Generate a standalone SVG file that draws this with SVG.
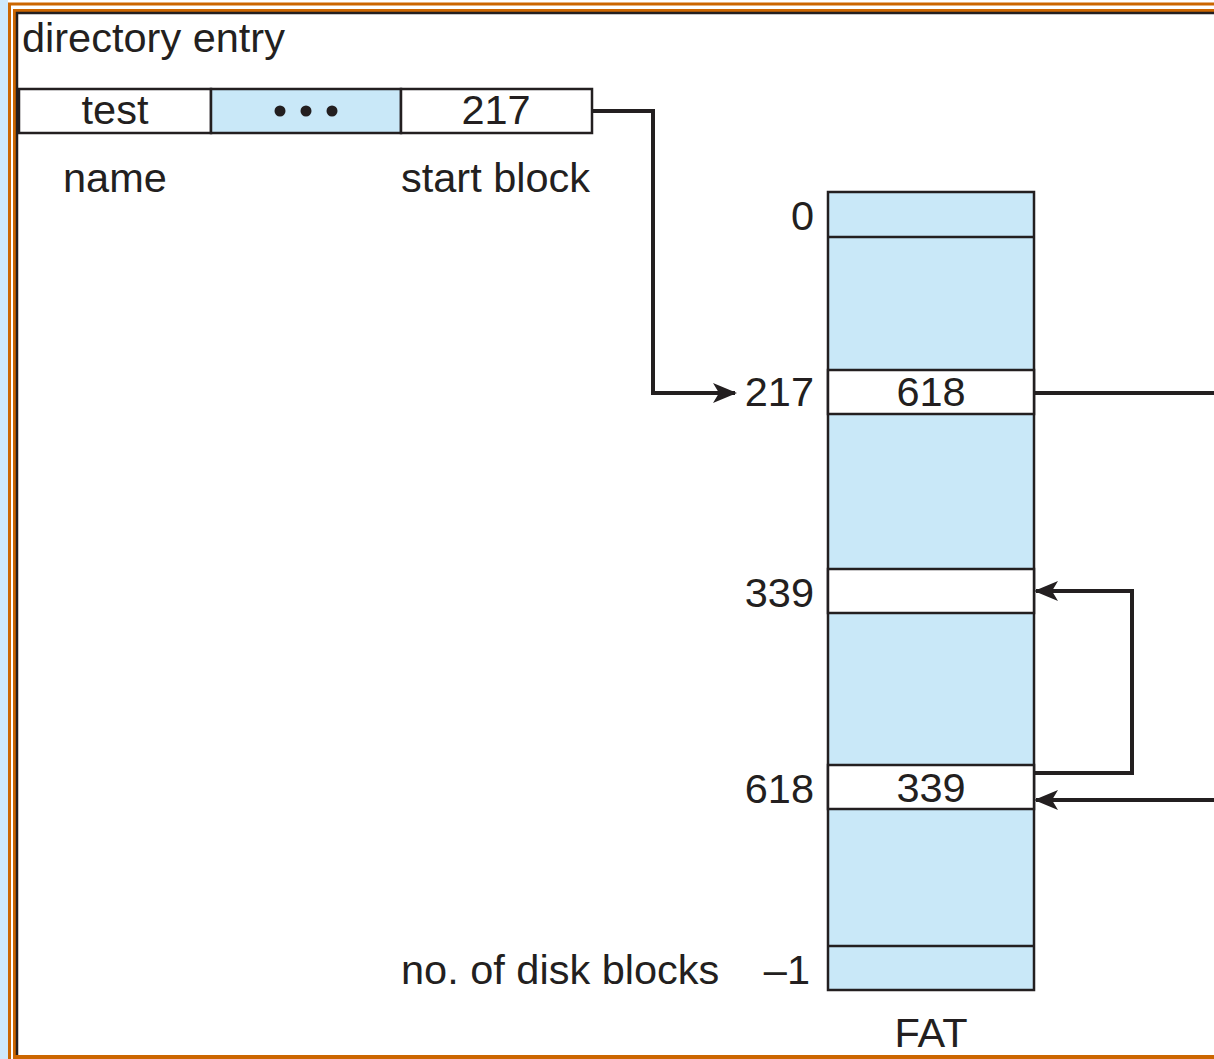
<svg xmlns="http://www.w3.org/2000/svg" width="1214" height="1059" viewBox="0 0 1214 1059">
<defs>
<style>
text{font-family:"Liberation Sans",Arial,sans-serif;font-size:41.5px;fill:#231f20}
.c{text-anchor:middle}
.r{text-anchor:end}
.box{stroke:#231f20;stroke-width:2.5}
.blue{fill:#c9e8f8}
.white{fill:#ffffff}
.line{fill:none;stroke:#231f20;stroke-width:4}
.thin{stroke:#231f20;stroke-width:2.5}
</style>
<marker id="ah" viewBox="0 0 24 20" refX="22" refY="10" markerWidth="24" markerHeight="20" markerUnits="userSpaceOnUse" orient="auto">
<path d="M0,0 L24,10 L0,20 L6,10 Z" fill="#231f20"/>
</marker>
</defs>
<rect width="1214" height="1059" fill="#ffffff"/>
<g id="frame">
<rect x="0" y="0" width="8" height="1059" fill="#cfe9fb"/>
<path d="M9.5,1059 V4 H1214" fill="none" stroke="#cc6600" stroke-width="3"/>
<path d="M14.5,1059 V10.5 H1214" fill="none" stroke="#cc6600" stroke-width="3"/>
<path d="M17,1055 V13 H1214" fill="none" stroke="#231f20" stroke-width="2.5"/>
<rect x="13" y="1055" width="1201" height="4" fill="#cc6600"/>
</g>
<text x="22" y="52">directory entry</text>
<g id="dir-entry">
<rect x="19" y="89" width="192" height="44" class="box white"/>
<rect x="211" y="89" width="190" height="44" class="box blue"/>
<rect x="401" y="89" width="191" height="44" class="box white"/>
<text x="115" y="124" class="c">test</text>
<circle cx="280" cy="111" r="5.5" fill="#231f20"/>
<circle cx="306" cy="111" r="5.5" fill="#231f20"/>
<circle cx="332" cy="111" r="5.5" fill="#231f20"/>
<text x="496" y="124" class="c">217</text>
</g>
<text x="63" y="192">name</text>
<text x="401" y="192">start block</text>
<g id="fat">
<rect x="828" y="192" width="206" height="798" class="box blue"/>
<rect x="828" y="370" width="206" height="44" class="box white"/>
<rect x="828" y="569" width="206" height="44" class="box white"/>
<rect x="828" y="765" width="206" height="44" class="box white"/>
<line x1="828" y1="237" x2="1034" y2="237" class="thin"/>
<line x1="828" y1="946" x2="1034" y2="946" class="thin"/>
<text x="931" y="406" class="c">618</text>
<text x="931" y="802" class="c">339</text>
</g>
<g id="fat-labels">
<text x="814" y="230" class="r">0</text>
<text x="814" y="406" class="r">217</text>
<text x="814" y="607" class="r">339</text>
<text x="814" y="803" class="r">618</text>
<text x="401" y="984">no. of disk blocks</text>
<text x="810" y="984" class="r">–1</text>
<text x="931" y="1047" class="c">FAT</text>
</g>
<g id="connectors">
<path d="M592,111 H653 V393 H735" class="line" marker-end="url(#ah)"/>
<path d="M1034,393 H1214" class="line"/>
<path d="M1034,773 H1132 V591 H1036" class="line" marker-end="url(#ah)"/>
<path d="M1214,800 H1036" class="line" marker-end="url(#ah)"/>
</g>
</svg>
